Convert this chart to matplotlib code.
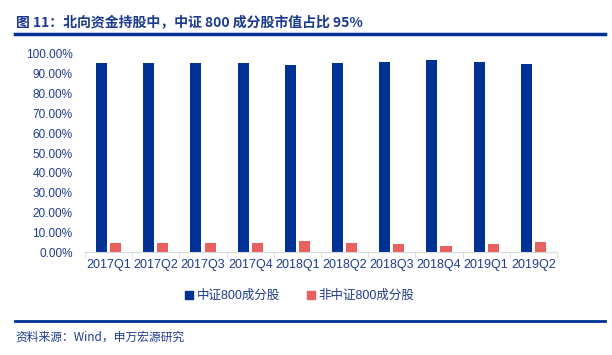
import numpy as np
import matplotlib
matplotlib.use("Agg")
import matplotlib.pyplot as plt
from matplotlib.patches import Patch

plt.rcParams['font.family'] = ['Liberation Sans', 'Noto Sans CJK SC', 'DejaVu Sans']

# data (%)
quarters = ['2017Q1', '2017Q2', '2017Q3', '2017Q4', '2018Q1',
            '2018Q2', '2018Q3', '2018Q4', '2019Q1', '2019Q2']
csi800 = [95.5, 95.2, 95.5, 95.5, 94.6, 95.5, 96.0, 97.1, 96.0, 95.0]
non_csi800 = [4.5, 4.8, 4.5, 4.5, 5.4, 4.5, 4.0, 2.9, 4.0, 5.0]
yticks = np.arange(0, 101, 10)

navy = '#003296'
red = '#E86060'
text_blue = '#1F3C8C'

fig = plt.figure(figsize=(6.12, 3.55), dpi=100)
ax = fig.add_axes([0.139, 0.290, 0.771, 0.558])

x = np.arange(len(quarters))
w = 0.235
ax.bar(x - 0.15, csi800, width=w, color=navy, label='中证800成分股')
ax.bar(x + 0.15, non_csi800, width=w, color=red, label='非中证800成分股')

ax.set_xlim(-0.5, len(quarters) - 0.5)
ax.set_ylim(0, 100)
ax.set_yticks(yticks)
ax.set_yticklabels([f'{v:.2f}%' for v in yticks], color=text_blue, fontsize=8.5)
ax.set_xticks(x)
ax.set_xticklabels(quarters, color=text_blue, fontsize=9)
ax.set_xticks(np.arange(-0.5, len(quarters)), minor=True)
ax.tick_params(axis='x', which='major', length=0, pad=5)
ax.tick_params(axis='x', which='minor', length=4, color='#D9D9D9')
ax.tick_params(axis='y', length=0, pad=9)

for s in ['top', 'right', 'left']:
    ax.spines[s].set_visible(False)
ax.spines['bottom'].set_color('#D9D9D9')

handles = [Patch(color=navy, label='中证800成分股'),
           Patch(color=red, label='非中证800成分股')]
fig.legend(handles=handles, loc='center', bbox_to_anchor=(0.49, 0.166), ncol=2,
           frameon=False, fontsize=9, handlelength=0.6, handleheight=0.6,
           handletextpad=0.3, columnspacing=2.2, labelcolor=text_blue)

# title, rules and source
fig.text(0.026, 0.937, '图 11：北向资金持股中，中证 800 成分股市值占比 95%',
         fontsize=10, fontweight='bold', color='#1A3A8F', va='center',
         family=['Noto Sans CJK SC', 'DejaVu Sans'])
fig.add_artist(plt.Line2D([0.024, 0.988], [0.905, 0.905], color='#003296', lw=2.5))
fig.add_artist(plt.Line2D([0.024, 0.988], [0.097, 0.097], color='#003296', lw=2))
fig.text(0.026, 0.05, '资料来源：Wind，申万宏源研究', fontsize=8.5, color=text_blue,
         va='center', family=['Noto Sans CJK SC', 'DejaVu Sans'])

fig.savefig('out.png', dpi=100)
